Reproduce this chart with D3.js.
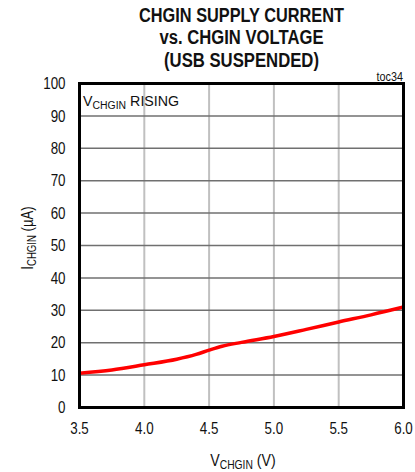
<!DOCTYPE html>
<html><head><meta charset="utf-8">
<script src="https://cdn.jsdelivr.net/npm/d3@7"></script>
<style>
body{margin:0;background:#fff;}
text{font-family:"Liberation Sans Narrow","Arial Narrow","Liberation Sans",Arial,sans-serif;fill:#111;}
</style></head>
<body><svg id="c" width="415" height="472"></svg>
<script>
const voltage = [3.5, 3.75, 4.0, 4.25, 4.4, 4.5, 4.6, 4.75, 5.0, 5.25, 5.5, 5.75, 6.0];
const current = [10.6, 11.6, 13.2, 14.9, 16.4, 17.7, 18.9, 20.1, 21.9, 24.1, 26.4, 28.6, 31.0];
const xTicks = [3.5, 4.0, 4.5, 5.0, 5.5, 6.0];
const yTicks = [0, 10, 20, 30, 40, 50, 60, 70, 80, 90, 100];
const titleLines = ["CHGIN SUPPLY CURRENT", "vs. CHGIN VOLTAGE", "(USB SUSPENDED)"];
const titleWidths = [205, 164, 155];

const svg = d3.select("#c");
const L = 79.5, R = 403.5, T = 83.5, B = 407.5;
const x = d3.scaleLinear().domain([3.5, 6.0]).range([L, R]);
const y = d3.scaleLinear().domain([0, 100]).range([B, T]);
const SX = 0.81;

// title
svg.append("g").selectAll("text").data(titleLines).join("text")
  .attr("x", 241.5).attr("y", (d, i) => 22 + i * 22.3)
  .attr("text-anchor", "middle").attr("font-weight", "bold").attr("font-size", 19.5)
  .attr("textLength", (d, i) => titleWidths[i]).attr("lengthAdjust", "spacingAndGlyphs")
  .text(d => d);

// vertical gridlines
svg.append("g").selectAll("line").data(xTicks.slice(1, -1)).join("line")
  .attr("x1", d => x(d)).attr("x2", d => x(d)).attr("y1", T).attr("y2", B)
  .attr("stroke", "#c0c0c0").attr("stroke-width", 2);
// horizontal gridlines
svg.append("g").selectAll("line").data(yTicks.slice(1, -1)).join("line")
  .attr("x1", L).attr("x2", R).attr("y1", d => y(d)).attr("y2", d => y(d))
  .attr("stroke", "#707070").attr("stroke-width", 1.5);

// tick labels (narrowed)
svg.append("g").selectAll("text").data(yTicks).join("text")
  .attr("transform", d => `translate(${L - 14},${y(d)}) scale(${SX},1)`)
  .attr("dy", "0.35em").attr("text-anchor", "end").attr("font-size", 16.5)
  .text(d3.format("d"));
svg.append("g").selectAll("text").data(xTicks).join("text")
  .attr("transform", d => `translate(${x(d)},${B + 26}) scale(${SX},1)`)
  .attr("text-anchor", "middle").attr("font-size", 16.5)
  .text(d3.format(".1f"));

// curve
svg.append("path").datum(voltage.map((v, i) => [v, current[i]]))
  .attr("d", d3.line().x(d => x(d[0])).y(d => y(d[1])).curve(d3.curveMonotoneX))
  .attr("fill", "none").attr("stroke", "#ff0000").attr("stroke-width", 3.5);

// frame
svg.append("rect").attr("x", L).attr("y", T).attr("width", R - L).attr("height", B - T)
  .attr("fill", "none").attr("stroke", "#000").attr("stroke-width", 3);

// annotations
const ann = svg.append("text").attr("transform", "translate(83,106) scale(0.95,1)").attr("font-size", 15);
ann.append("tspan").text("V");
ann.append("tspan").attr("font-size", 11).attr("dy", 3).text("CHGIN");
ann.append("tspan").attr("dy", -3).text(" RISING");

svg.append("text").attr("transform", "translate(403,81) scale(0.9,1)").attr("text-anchor", "end")
  .attr("font-size", 12).text("toc34");

const xl = svg.append("text").attr("transform", "translate(243,466) scale(0.86,1)")
  .attr("text-anchor", "middle").attr("font-size", 16.5);
xl.append("tspan").text("V");
xl.append("tspan").attr("font-size", 12).attr("dy", 3).text("CHGIN");
xl.append("tspan").attr("dy", -3).text(" (V)");

const yl = svg.append("text").attr("transform", "translate(33,238) rotate(-90) scale(0.8,1)")
  .attr("text-anchor", "middle").attr("font-size", 16.5);
yl.append("tspan").text("I");
yl.append("tspan").attr("font-size", 12).attr("dy", 3).text("CHGIN");
yl.append("tspan").attr("dy", -3).text(" (µA)");
</script></body></html>
